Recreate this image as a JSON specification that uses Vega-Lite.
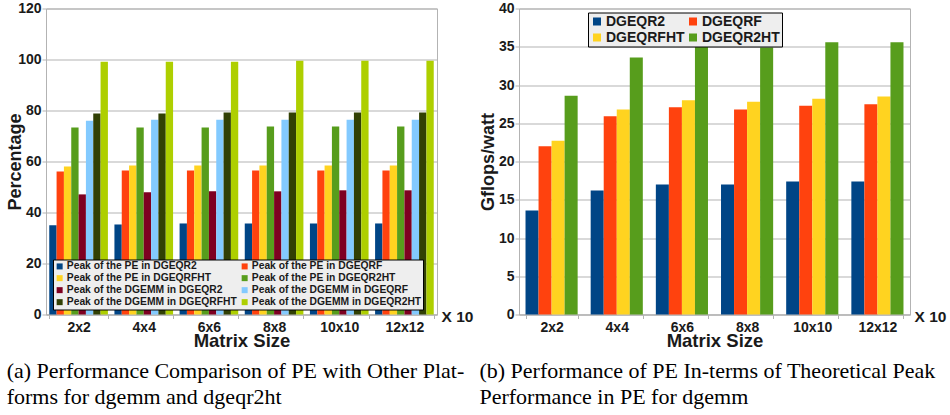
{
  "$schema": "https://vega.github.io/schema/vega-lite/v6.json",
  "padding": {"left": 6, "top": 0.5, "right": 0, "bottom": 0},
  "background": "white",
  "spacing": 4,
  "resolve": {"scale": {"color": "independent", "xOffset": "independent", "x": "independent", "y": "independent"}, "legend": {"color": "independent"}},
  "config": {
    "view": {"stroke": "#b3b3b3", "strokeWidth": 1},
    "font": "Liberation Sans",
    "axis": {
      "labelFont": "Liberation Sans", "labelFontWeight": "bold", "labelFontSize": 14, "labelColor": "#1a1a1a",
      "titleFont": "Liberation Sans", "titleFontWeight": "bold", "titleColor": "#1a1a1a",
      "domainColor": "#b3b3b3", "tickColor": "#b3b3b3", "gridColor": "#b3b3b3", "gridWidth": 1.2, "tickSize": 4
    },
    "legend": {"labelFont": "Liberation Sans", "labelFontWeight": "bold", "labelColor": "#1a1a1a"},
    "title": {"font": "Liberation Serif", "fontWeight": "normal", "color": "black"}
  },
  "datasets": {
    "pe": [
      {"s": "2x2", "k": "Peak of the PE in DGEQR2", "v": 35.0},
      {"s": "4x4", "k": "Peak of the PE in DGEQR2", "v": 35.3},
      {"s": "6x6", "k": "Peak of the PE in DGEQR2", "v": 35.7},
      {"s": "8x8", "k": "Peak of the PE in DGEQR2", "v": 35.7},
      {"s": "10x10", "k": "Peak of the PE in DGEQR2", "v": 35.7},
      {"s": "12x12", "k": "Peak of the PE in DGEQR2", "v": 35.7},
      {"s": "2x2", "k": "Peak of the PE in DGEQRF", "v": 56.1},
      {"s": "4x4", "k": "Peak of the PE in DGEQRF", "v": 56.5},
      {"s": "6x6", "k": "Peak of the PE in DGEQRF", "v": 56.5},
      {"s": "8x8", "k": "Peak of the PE in DGEQRF", "v": 56.5},
      {"s": "10x10", "k": "Peak of the PE in DGEQRF", "v": 56.5},
      {"s": "12x12", "k": "Peak of the PE in DGEQRF", "v": 56.5},
      {"s": "2x2", "k": "Peak of the PE in DGEQRFHT", "v": 58.0},
      {"s": "4x4", "k": "Peak of the PE in DGEQRFHT", "v": 58.4},
      {"s": "6x6", "k": "Peak of the PE in DGEQRFHT", "v": 58.4},
      {"s": "8x8", "k": "Peak of the PE in DGEQRFHT", "v": 58.4},
      {"s": "10x10", "k": "Peak of the PE in DGEQRFHT", "v": 58.4},
      {"s": "12x12", "k": "Peak of the PE in DGEQRFHT", "v": 58.4},
      {"s": "2x2", "k": "Peak of the PE in DGEQR2HT", "v": 73.3},
      {"s": "4x4", "k": "Peak of the PE in DGEQR2HT", "v": 73.3},
      {"s": "6x6", "k": "Peak of the PE in DGEQR2HT", "v": 73.3},
      {"s": "8x8", "k": "Peak of the PE in DGEQR2HT", "v": 73.7},
      {"s": "10x10", "k": "Peak of the PE in DGEQR2HT", "v": 73.7},
      {"s": "12x12", "k": "Peak of the PE in DGEQR2HT", "v": 73.7},
      {"s": "2x2", "k": "Peak of the DGEMM in DGEQR2", "v": 47.1},
      {"s": "4x4", "k": "Peak of the DGEMM in DGEQR2", "v": 47.9},
      {"s": "6x6", "k": "Peak of the DGEMM in DGEQR2", "v": 48.3},
      {"s": "8x8", "k": "Peak of the DGEMM in DGEQR2", "v": 48.3},
      {"s": "10x10", "k": "Peak of the DGEMM in DGEQR2", "v": 48.7},
      {"s": "12x12", "k": "Peak of the DGEMM in DGEQR2", "v": 48.7},
      {"s": "2x2", "k": "Peak of the DGEMM in DGEQRF", "v": 76.0},
      {"s": "4x4", "k": "Peak of the DGEMM in DGEQRF", "v": 76.4},
      {"s": "6x6", "k": "Peak of the DGEMM in DGEQRF", "v": 76.4},
      {"s": "8x8", "k": "Peak of the DGEMM in DGEQRF", "v": 76.4},
      {"s": "10x10", "k": "Peak of the DGEMM in DGEQRF", "v": 76.4},
      {"s": "12x12", "k": "Peak of the DGEMM in DGEQRF", "v": 76.4},
      {"s": "2x2", "k": "Peak of the DGEMM in DGEQRFHT", "v": 78.8},
      {"s": "4x4", "k": "Peak of the DGEMM in DGEQRFHT", "v": 78.8},
      {"s": "6x6", "k": "Peak of the DGEMM in DGEQRFHT", "v": 79.2},
      {"s": "8x8", "k": "Peak of the DGEMM in DGEQRFHT", "v": 79.2},
      {"s": "10x10", "k": "Peak of the DGEMM in DGEQRFHT", "v": 79.2},
      {"s": "12x12", "k": "Peak of the DGEMM in DGEQRFHT", "v": 79.2},
      {"s": "2x2", "k": "Peak of the DGEMM in DGEQR2HT", "v": 99.1},
      {"s": "4x4", "k": "Peak of the DGEMM in DGEQR2HT", "v": 99.1},
      {"s": "6x6", "k": "Peak of the DGEMM in DGEQR2HT", "v": 99.1},
      {"s": "8x8", "k": "Peak of the DGEMM in DGEQR2HT", "v": 99.5},
      {"s": "10x10", "k": "Peak of the DGEMM in DGEQR2HT", "v": 99.5},
      {"s": "12x12", "k": "Peak of the DGEMM in DGEQR2HT", "v": 99.5}
    ],
    "gf": [
      {"s": "2x2", "k": "DGEQR2", "v": 13.6},
      {"s": "4x4", "k": "DGEQR2", "v": 16.2},
      {"s": "6x6", "k": "DGEQR2", "v": 17.0},
      {"s": "8x8", "k": "DGEQR2", "v": 17.0},
      {"s": "10x10", "k": "DGEQR2", "v": 17.4},
      {"s": "12x12", "k": "DGEQR2", "v": 17.4},
      {"s": "2x2", "k": "DGEQRF", "v": 22.0},
      {"s": "4x4", "k": "DGEQRF", "v": 25.9},
      {"s": "6x6", "k": "DGEQRF", "v": 27.1},
      {"s": "8x8", "k": "DGEQRF", "v": 26.8},
      {"s": "10x10", "k": "DGEQRF", "v": 27.3},
      {"s": "12x12", "k": "DGEQRF", "v": 27.5},
      {"s": "2x2", "k": "DGEQRFHT", "v": 22.7},
      {"s": "4x4", "k": "DGEQRFHT", "v": 26.8},
      {"s": "6x6", "k": "DGEQRFHT", "v": 28.0},
      {"s": "8x8", "k": "DGEQRFHT", "v": 27.8},
      {"s": "10x10", "k": "DGEQRFHT", "v": 28.2},
      {"s": "12x12", "k": "DGEQRFHT", "v": 28.5},
      {"s": "2x2", "k": "DGEQR2HT", "v": 28.6},
      {"s": "4x4", "k": "DGEQR2HT", "v": 33.6},
      {"s": "6x6", "k": "DGEQR2HT", "v": 35.2},
      {"s": "8x8", "k": "DGEQR2HT", "v": 34.9},
      {"s": "10x10", "k": "DGEQR2HT", "v": 35.6},
      {"s": "12x12", "k": "DGEQR2HT", "v": 35.6}
    ]
  },
  "hconcat": [
    {
      "width": 391,
      "height": 306,
      "data": {"name": "pe"},
      "title": {
        "text": ["(a) Performance Comparison of PE with Other Plat-", "forms for dgemm and dgeqr2ht"],
        "orient": "bottom", "anchor": "start", "frame": "bounds",
        "fontSize": 22, "lineHeight": 26, "offset": 11, "dx": 0
      },
      "layer": [
        {
          "mark": {"type": "bar"},
          "encoding": {
            "x": {
              "field": "s", "type": "nominal",
              "sort": ["2x2", "4x4", "6x6", "8x8", "10x10", "12x12"],
              "scale": {"paddingInner": 0.1, "paddingOuter": 0.05},
              "axis": {"title": "Matrix Size", "labelAngle": 0, "tickBand": "extent", "labelPadding": 2, "titlePadding": -3, "titleFontSize": 18.5, "grid": false}
            },
            "xOffset": {
              "field": "k", "type": "nominal",
              "sort": ["Peak of the PE in DGEQR2", "Peak of the PE in DGEQRF", "Peak of the PE in DGEQRFHT", "Peak of the PE in DGEQR2HT", "Peak of the DGEMM in DGEQR2", "Peak of the DGEMM in DGEQRF", "Peak of the DGEMM in DGEQRFHT", "Peak of the DGEMM in DGEQR2HT"],
              "scale": {"paddingInner": 0, "paddingOuter": 0}
            },
            "y": {
              "field": "v", "type": "quantitative",
              "scale": {"domain": [0, 120]},
              "axis": {"title": "Percentage", "values": [0, 20, 40, 60, 80, 100, 120], "labelPadding": 1, "titlePadding": -7, "titleFontSize": 18, "grid": true}
            },
            "color": {
              "field": "k", "type": "nominal",
              "scale": {
                "domain": ["Peak of the PE in DGEQR2", "Peak of the PE in DGEQRFHT", "Peak of the DGEMM in DGEQR2", "Peak of the DGEMM in DGEQRFHT", "Peak of the PE in DGEQRF", "Peak of the PE in DGEQR2HT", "Peak of the DGEMM in DGEQRF", "Peak of the DGEMM in DGEQR2HT"],
                "range": ["#004586", "#ffd320", "#7e0021", "#314004", "#ff420e", "#579d1c", "#83caff", "#aecf00"]
              },
              "legend": {
                "title": null, "orient": "none", "legendX": 7, "legendY": 251, "columns": 2,
                "symbolType": "square", "symbolSize": 36, "symbolStrokeWidth": 0,
                "labelFontSize": 10.3, "labelLimit": 300, "labelOffset": 2,
                "fillColor": "#eeeeee", "strokeColor": "black", "padding": 1.5, "rowPadding": 1, "columnPadding": 2
              }
            }
          }
        },
        {
          "mark": {"type": "bar", "opacity": 0},
          "encoding": {
            "y": {
              "field": "v", "type": "quantitative",
              "axis": {"orient": "right", "labels": false, "ticks": false, "domain": false, "grid": false, "title": "X 10", "titleAngle": 0, "titleAlign": "left", "titleBaseline": "middle", "titleX": 4, "titleY": 307.5, "titleFontSize": 15.5}
            }
          }
        }
      ],
      "resolve": {"scale": {"y": "independent"}}
    },
    {
      "width": 391,
      "height": 306,
      "data": {"name": "gf"},
      "title": {
        "text": ["(b) Performance of PE In-terms of Theoretical Peak", "Performance in PE for dgemm"],
        "orient": "bottom", "anchor": "start", "frame": "bounds",
        "fontSize": 22, "lineHeight": 26, "offset": 11, "dx": 0
      },
      "layer": [
        {
          "mark": {"type": "bar"},
          "encoding": {
            "x": {
              "field": "s", "type": "nominal",
              "sort": ["2x2", "4x4", "6x6", "8x8", "10x10", "12x12"],
              "scale": {"paddingInner": 0.2, "paddingOuter": 0.1},
              "axis": {"title": "Matrix Size", "labelAngle": 0, "tickBand": "extent", "labelPadding": 2, "titlePadding": -3, "titleFontSize": 18.5, "grid": false}
            },
            "xOffset": {
              "field": "k", "type": "nominal",
              "sort": ["DGEQR2", "DGEQRF", "DGEQRFHT", "DGEQR2HT"],
              "scale": {"paddingInner": 0, "paddingOuter": 0}
            },
            "y": {
              "field": "v", "type": "quantitative",
              "scale": {"domain": [0, 40]},
              "axis": {"title": "Gflops/watt", "values": [0, 5, 10, 15, 20, 25, 30, 35, 40], "labelPadding": 1, "titlePadding": 1, "titleFontSize": 18, "grid": true}
            },
            "color": {
              "field": "k", "type": "nominal",
              "scale": {
                "domain": ["DGEQR2", "DGEQRFHT", "DGEQRF", "DGEQR2HT"],
                "range": ["#004586", "#ffd320", "#ff420e", "#579d1c"]
              },
              "legend": {
                "title": null, "orient": "none", "legendX": 69, "legendY": 4, "columns": 2,
                "symbolType": "square", "symbolSize": 64, "symbolStrokeWidth": 0,
                "labelFontSize": 14, "labelLimit": 300, "labelOffset": 2,
                "fillColor": "#eeeeee", "strokeColor": "black", "padding": 2, "rowPadding": 2, "columnPadding": 1
              }
            }
          }
        },
        {
          "mark": {"type": "bar", "opacity": 0},
          "encoding": {
            "y": {
              "field": "v", "type": "quantitative",
              "axis": {"orient": "right", "labels": false, "ticks": false, "domain": false, "grid": false, "title": "X 10", "titleAngle": 0, "titleAlign": "left", "titleBaseline": "middle", "titleX": 4, "titleY": 307.5, "titleFontSize": 15.5}
            }
          }
        }
      ],
      "resolve": {"scale": {"y": "independent"}}
    }
  ]
}
